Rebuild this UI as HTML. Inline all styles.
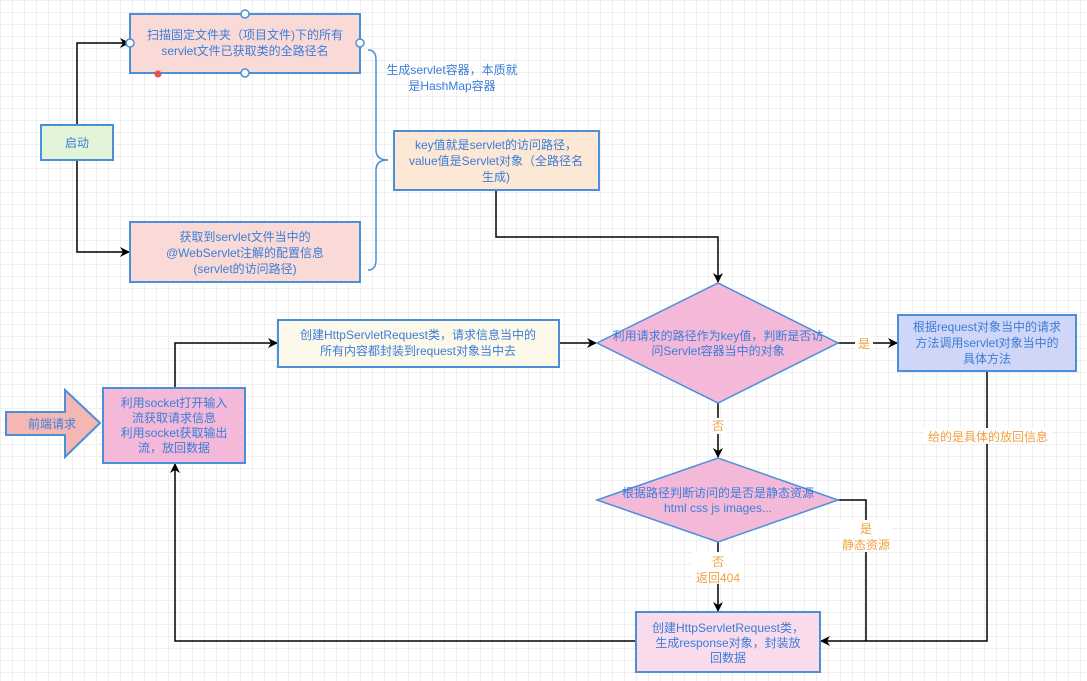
<!DOCTYPE html>
<html><head><meta charset="utf-8"><style>
body{margin:0;width:1087px;height:681px;overflow:hidden;background:#fff;
background-image:linear-gradient(#efefef 1px,transparent 1px),linear-gradient(90deg,#efefef 1px,transparent 1px);background-size:12px 12px;}
svg{position:absolute;left:0;top:0}
text{font-family:"Liberation Sans","Noto Sans CJK SC",sans-serif;font-size:12px;text-anchor:middle}
.b{fill:#3b7dd8}.o{fill:#f0a040}
</style></head><body>
<svg width="1087" height="681" viewBox="0 0 1087 681">
<defs><marker id="a" markerWidth="10" markerHeight="10" refX="9" refY="5" orient="auto" markerUnits="userSpaceOnUse"><path d="M0,0 L10,5 L0,10 L3,5 z" fill="#000"/></marker></defs>
<g stroke="#000" stroke-width="1.5" fill="none">
<path d="M77,125 V43 H129" marker-end="url(#a)"/>
<path d="M77,160 V252 H129" marker-end="url(#a)"/>
<path d="M496,190 V237 H718 V282" marker-end="url(#a)"/>
<path d="M838,343 H897" marker-end="url(#a)"/>
<path d="M718,403 V457" marker-end="url(#a)"/>
<path d="M718,542 V611" marker-end="url(#a)"/>
<path d="M838,500 H866 V641"/>
<path d="M987,371 V641 H821" marker-end="url(#a)"/>
<path d="M636,641 H175 V464" marker-end="url(#a)"/>
<path d="M175,388 V343 H277" marker-end="url(#a)"/>
<path d="M559,343 H596" marker-end="url(#a)"/>
</g>
<path d="M368,50 Q376,50 376,60 V150 Q376,160 388,160 Q376,160 376,170 V260 Q376,270 368,270" stroke="#4a90d9" stroke-width="1.5" fill="none"/>
<g stroke="#4a90d9" stroke-width="2">
<rect x="130" y="14" width="230" height="59" fill="#fadad6"/>
<rect x="41" y="125" width="72" height="35" fill="#e3f5d9"/>
<rect x="130" y="222" width="230" height="60" fill="#fadad6"/>
<rect x="394" y="131" width="205" height="59" fill="#fde8d6"/>
<polygon points="597,343 718,283 838,343 718,403" fill="#f4b9d9" stroke-width="1.5"/>
<rect x="898" y="315" width="178" height="56" fill="#d0d6f7"/>
<polygon points="597,500 718,458 838,500 718,542" fill="#f4b9d9" stroke-width="1.5"/>
<rect x="636" y="612" width="184" height="60" fill="#fadbeb"/>
<rect x="103" y="388" width="142" height="75" fill="#f4b9d9"/>
<rect x="278" y="320" width="281" height="47" fill="#fdf9ea"/>
<polygon points="6,412 65,412 65,390 100,423 65,457 65,435 6,435" fill="#f5b7b3"/>
</g>
<g fill="#fff" stroke="#4a90d9" stroke-width="1.5">
<circle cx="245" cy="14" r="4"/><circle cx="130" cy="43" r="4"/><circle cx="360" cy="43" r="4"/><circle cx="245" cy="73" r="4"/>
</g>
<circle cx="158" cy="74" r="3.5" fill="#e85050"/>
<g class="b">
<text x="245" y="39">扫描固定文件夹（项目文件)下的所有</text>
<text x="245" y="55">servlet文件已获取类的全路径名</text>
<text x="77" y="147">启动</text>
<text x="245" y="241">获取到servlet文件当中的</text>
<text x="245" y="257">@WebServlet注解的配置信息</text>
<text x="245" y="273">(servlet的访问路径)</text>
<text x="452" y="74">生成servlet容器，本质就</text>
<text x="452" y="90">是HashMap容器</text>
<text x="496" y="149">key值就是servlet的访问路径，</text>
<text x="496" y="165">value值是Servlet对象（全路径名</text>
<text x="496" y="181">生成)</text>
<text x="718" y="340">利用请求的路径作为key值，判断是否访</text>
<text x="718" y="355">问Servlet容器当中的对象</text>
<text x="987" y="331">根据request对象当中的请求</text>
<text x="987" y="347">方法调用servlet对象当中的</text>
<text x="987" y="363">具体方法</text>
<text x="718" y="497">根据路径判断访问的是否是静态资源</text>
<text x="718" y="512">html css js images...</text>
<text x="728" y="632">创建HttpServletRequest类，</text>
<text x="728" y="647">生成response对象，封装放</text>
<text x="728" y="662">回数据</text>
<text x="174" y="407">利用socket打开输入</text>
<text x="174" y="422">流获取请求信息</text>
<text x="174" y="437">利用socket获取输出</text>
<text x="174" y="452">流，放回数据</text>
<text x="418" y="339">创建HttpServletRequest类，请求信息当中的</text>
<text x="418" y="355">所有内容都封装到request对象当中去</text>
<text x="52" y="428">前端请求</text>
</g>
<g>
<rect x="855" y="336" width="18" height="16" fill="#fff"/>
<rect x="710" y="418" width="16" height="16" fill="#fff"/>
<rect x="924" y="428" width="128" height="16" fill="#fff"/>
<rect x="840" y="520" width="52" height="32" fill="#fff"/>
<rect x="692" y="552" width="52" height="32" fill="#fff"/>
</g>
<g class="o">
<text x="864" y="348">是</text>
<text x="718" y="430">否</text>
<text x="988" y="441">给的是具体的放回信息</text>
<text x="866" y="533">是</text>
<text x="866" y="549">静态资源</text>
<text x="718" y="566">否</text>
<text x="718" y="582">返回404</text>
</g>
</svg>
</body></html>
